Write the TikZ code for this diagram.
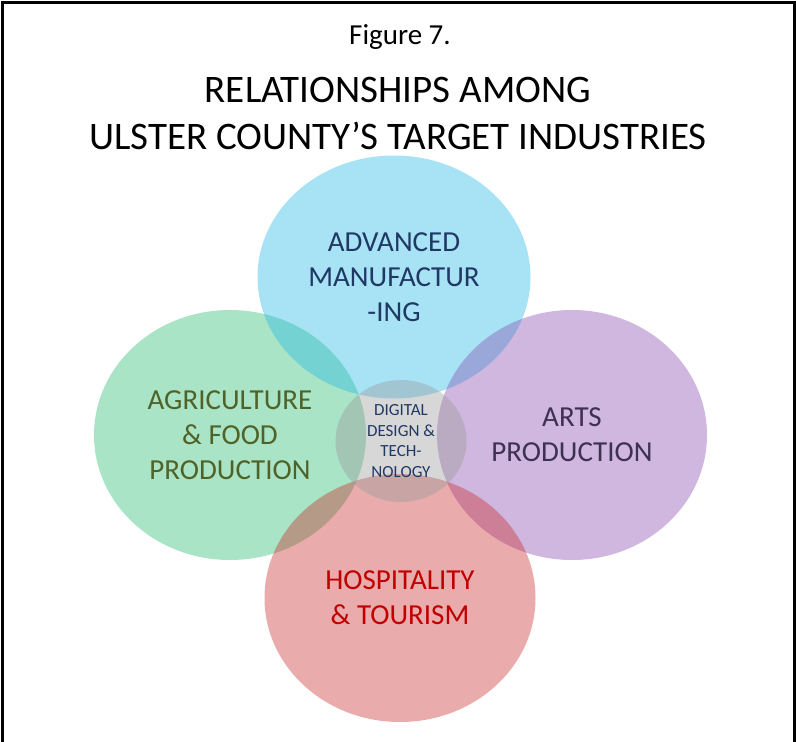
\documentclass[tikz,border=0pt]{standalone}
\usepackage{fontspec}
\setmainfont{Carlito}
\usetikzlibrary{shapes.geometric}
\definecolor{mfgblue}{RGB}{38,185,232}
\definecolor{agrgreen}{RGB}{40,188,113}
\definecolor{artpurple}{RGB}{135,77,177}
\definecolor{hosred}{RGB}{202,45,45}
\definecolor{digigray}{RGB}{155,155,155}
\definecolor{navytext}{RGB}{31,56,100}
\definecolor{olivetext}{RGB}{79,98,40}
\definecolor{plumtext}{RGB}{63,49,81}
\definecolor{redtext}{RGB}{192,0,0}
\begin{document}
\begin{tikzpicture}[x=1pt,y=-1pt,
  petal/.style={ellipse, inner sep=0pt, fill opacity=0.4, text opacity=1,
    align=center, font=\fontsize{29}{35}\selectfont},
  core/.style={ellipse, inner sep=0pt, fill opacity=0.4, text opacity=1,
    align=center, font=\fontsize{17}{20.5}\selectfont},
  heading/.style={inner sep=0pt, anchor=base}]
\useasboundingbox (0,0) rectangle (796,742);
\fill[white] (0,0) rectangle (796,742);
% open frame: left, top and right sides
\draw[line width=3pt] (2,742) -- (2,2.5) -- (794,2.5) -- (794,742);

% headings
\node[heading, font=\fontsize{29}{34}\selectfont] (fig) at (400,44) {Figure 7.};
\node[heading, font=\fontsize{39}{46}\selectfont] (t1) at (398,102) {RELATIONSHIPS AMONG};
\node[heading, font=\fontsize{39}{46}\selectfont] (t2) at (398,149) {ULSTER COUNTY’S TARGET INDUSTRIES};

% the four industry ellipses and the shared core
\node[petal, fill=agrgreen, text=olivetext, minimum width=272pt, minimum height=250pt]
  (agri) at (230,435) {AGRICULTURE\\\& FOOD\\PRODUCTION};
\node[petal, fill=mfgblue, text=navytext, minimum width=273pt, minimum height=243pt]
  (mfg) at (394,277) {ADVANCED\\MANUFACTUR\\-ING};
\node[petal, fill=artpurple, text=plumtext, minimum width=270pt, minimum height=250pt]
  (arts) at (572,435) {ARTS\\PRODUCTION};
\node[petal, fill=hosred, text=redtext, minimum width=271pt, minimum height=248pt]
  (hosp) at (400,598) {HOSPITALITY\\\& TOURISM};
\node[core, fill=digigray, text=navytext, minimum width=131pt, minimum height=122pt]
  (digi) at (401,441) {DIGITAL\\DESIGN \&\\TECH-\\NOLOGY};
\end{tikzpicture}
\end{document}
